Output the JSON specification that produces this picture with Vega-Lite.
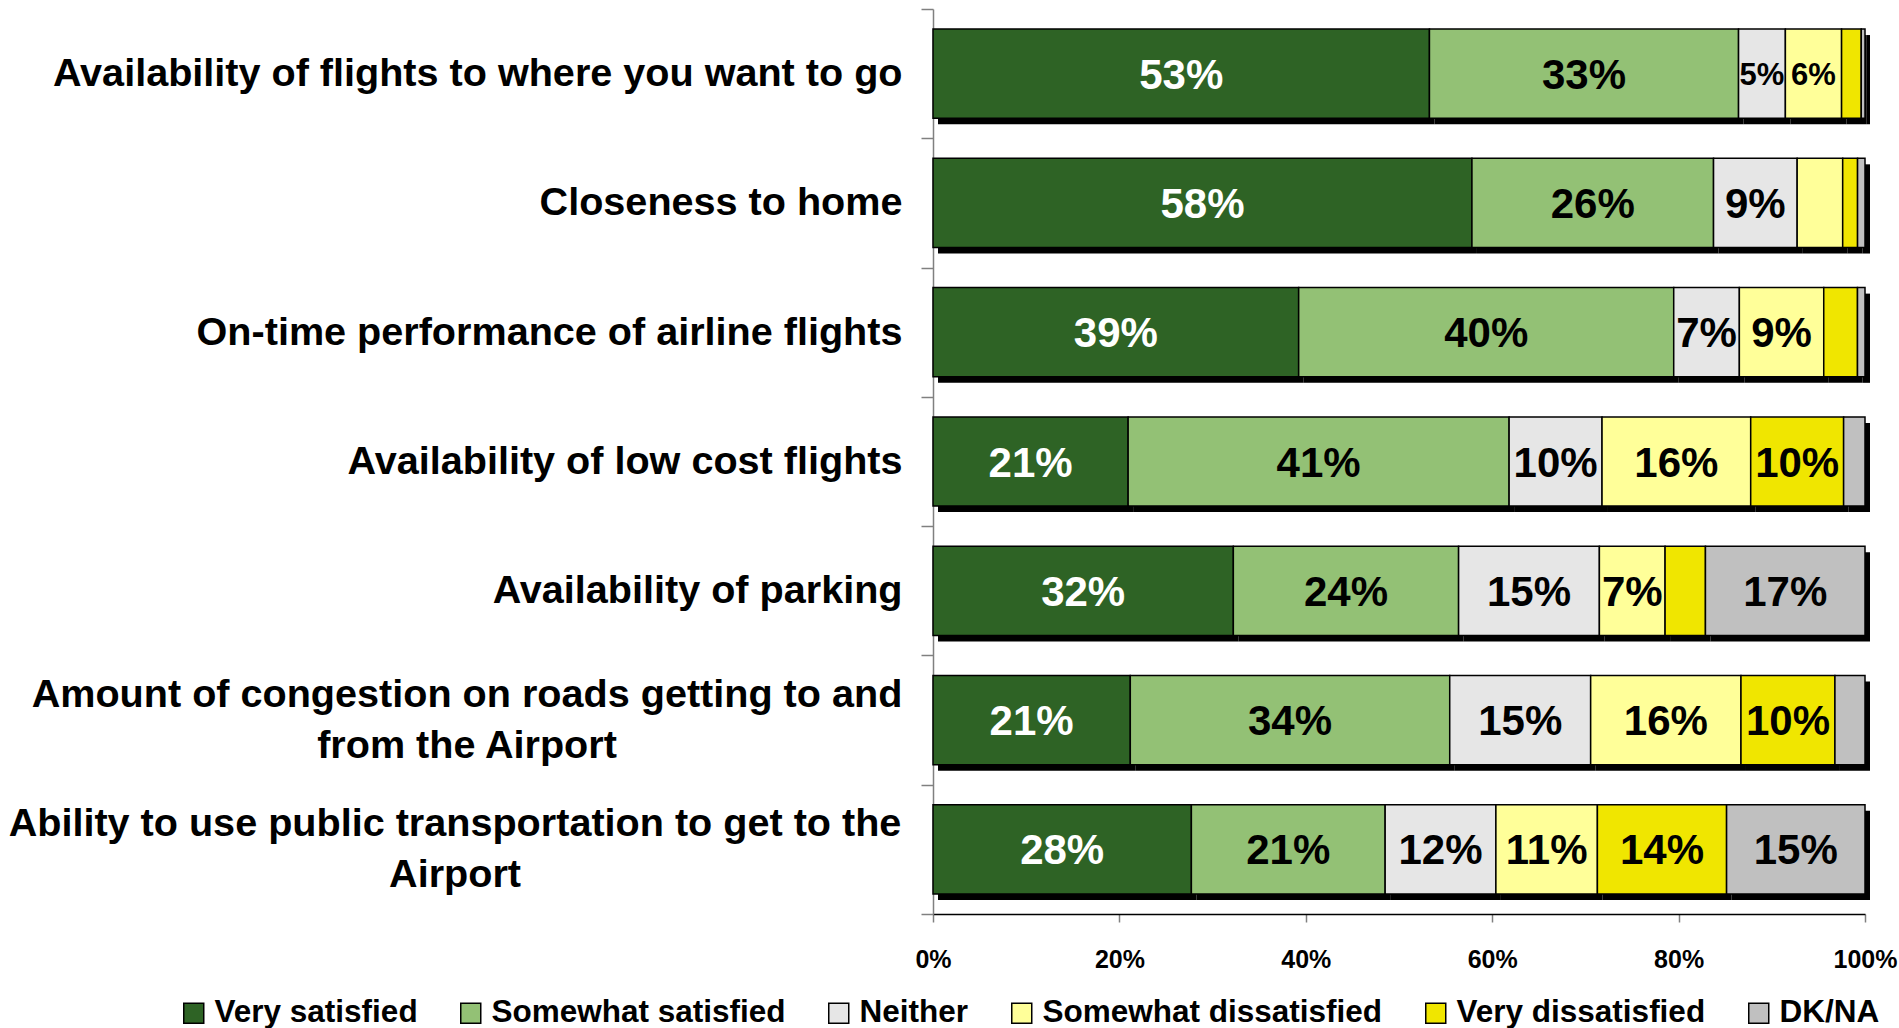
{
  "$schema": "https://vega.github.io/schema/vega-lite/v6.json",
  "width": 932,
  "height": 905,
  "autosize": {"type": "none"},
  "padding": {"left": 933, "top": 9, "right": 34, "bottom": 114},
  "background": "white",
  "config": {"view": {"stroke": null}, "font": "Liberation Sans"},
  "data": {"values": [
    {"item": "Availability of flights to where you want to go", "resp": "Very satisfied", "k": 1, "value": 0.53},
    {"item": "Availability of flights to where you want to go", "resp": "Somewhat satisfied", "k": 2, "value": 0.33},
    {"item": "Availability of flights to where you want to go", "resp": "Neither", "k": 3, "value": 0.05},
    {"item": "Availability of flights to where you want to go", "resp": "Somewhat dissatisfied", "k": 4, "value": 0.06},
    {"item": "Availability of flights to where you want to go", "resp": "Very dissatisfied", "k": 5, "value": 0.021},
    {"item": "Availability of flights to where you want to go", "resp": "DK/NA", "k": 6, "value": 0.004},
    {"item": "Closeness to home", "resp": "Very satisfied", "k": 1, "value": 0.58},
    {"item": "Closeness to home", "resp": "Somewhat satisfied", "k": 2, "value": 0.26},
    {"item": "Closeness to home", "resp": "Neither", "k": 3, "value": 0.09},
    {"item": "Closeness to home", "resp": "Somewhat dissatisfied", "k": 4, "value": 0.049},
    {"item": "Closeness to home", "resp": "Very dissatisfied", "k": 5, "value": 0.016},
    {"item": "Closeness to home", "resp": "DK/NA", "k": 6, "value": 0.008},
    {"item": "On-time performance of airline flights", "resp": "Very satisfied", "k": 1, "value": 0.39},
    {"item": "On-time performance of airline flights", "resp": "Somewhat satisfied", "k": 2, "value": 0.40},
    {"item": "On-time performance of airline flights", "resp": "Neither", "k": 3, "value": 0.07},
    {"item": "On-time performance of airline flights", "resp": "Somewhat dissatisfied", "k": 4, "value": 0.09},
    {"item": "On-time performance of airline flights", "resp": "Very dissatisfied", "k": 5, "value": 0.036},
    {"item": "On-time performance of airline flights", "resp": "DK/NA", "k": 6, "value": 0.008},
    {"item": "Availability of low cost flights", "resp": "Very satisfied", "k": 1, "value": 0.21},
    {"item": "Availability of low cost flights", "resp": "Somewhat satisfied", "k": 2, "value": 0.41},
    {"item": "Availability of low cost flights", "resp": "Neither", "k": 3, "value": 0.10},
    {"item": "Availability of low cost flights", "resp": "Somewhat dissatisfied", "k": 4, "value": 0.16},
    {"item": "Availability of low cost flights", "resp": "Very dissatisfied", "k": 5, "value": 0.10},
    {"item": "Availability of low cost flights", "resp": "DK/NA", "k": 6, "value": 0.023},
    {"item": "Availability of parking", "resp": "Very satisfied", "k": 1, "value": 0.32},
    {"item": "Availability of parking", "resp": "Somewhat satisfied", "k": 2, "value": 0.24},
    {"item": "Availability of parking", "resp": "Neither", "k": 3, "value": 0.15},
    {"item": "Availability of parking", "resp": "Somewhat dissatisfied", "k": 4, "value": 0.07},
    {"item": "Availability of parking", "resp": "Very dissatisfied", "k": 5, "value": 0.043},
    {"item": "Availability of parking", "resp": "DK/NA", "k": 6, "value": 0.17},
    {"item": "Amount of congestion on roads getting to and|from the Airport", "resp": "Very satisfied", "k": 1, "value": 0.21},
    {"item": "Amount of congestion on roads getting to and|from the Airport", "resp": "Somewhat satisfied", "k": 2, "value": 0.34},
    {"item": "Amount of congestion on roads getting to and|from the Airport", "resp": "Neither", "k": 3, "value": 0.15},
    {"item": "Amount of congestion on roads getting to and|from the Airport", "resp": "Somewhat dissatisfied", "k": 4, "value": 0.16},
    {"item": "Amount of congestion on roads getting to and|from the Airport", "resp": "Very dissatisfied", "k": 5, "value": 0.10},
    {"item": "Amount of congestion on roads getting to and|from the Airport", "resp": "DK/NA", "k": 6, "value": 0.032},
    {"item": "Ability to use public transportation to get to the|Airport", "resp": "Very satisfied", "k": 1, "value": 0.28},
    {"item": "Ability to use public transportation to get to the|Airport", "resp": "Somewhat satisfied", "k": 2, "value": 0.21},
    {"item": "Ability to use public transportation to get to the|Airport", "resp": "Neither", "k": 3, "value": 0.12},
    {"item": "Ability to use public transportation to get to the|Airport", "resp": "Somewhat dissatisfied", "k": 4, "value": 0.11},
    {"item": "Ability to use public transportation to get to the|Airport", "resp": "Very dissatisfied", "k": 5, "value": 0.14},
    {"item": "Ability to use public transportation to get to the|Airport", "resp": "DK/NA", "k": 6, "value": 0.15}
  ]},
  "transform": [
    {"stack": "value", "groupby": ["item"], "sort": [{"field": "k", "order": "ascending"}], "as": ["x0", "x1"], "offset": "normalize"},
    {"calculate": "(datum.x0 + datum.x1) / 2", "as": "xm"}
  ],
  "encoding": {
    "y": {
      "field": "item", "type": "nominal", "sort": null,
      "scale": {"paddingInner": 0, "paddingOuter": 0},
      "axis": {
        "title": null,
        "domainColor": "#808080", "domainWidth": 1.5,
        "tickColor": "#808080", "tickSize": 12, "tickWidth": 1.5, "tickBand": "extent",
        "labelFont": "Liberation Sans", "labelFontWeight": "bold", "labelFontSize": 39.6, "labelColor": "black",
        "labelPadding": 19, "labelLimit": 1200, "labelAlign": "right",
        "labelExpr": "indexof(datum.label, '|') >= 0 ? '' : datum.label"
      }
    }
  },
  "layer": [
    {
      "mark": {"type": "bar", "color": "black", "height": {"band": 0.69}, "xOffset": 5, "x2Offset": 5, "yOffset": 6},
      "encoding": {
        "x": {"field": "x0", "type": "quantitative", "scale": {"domain": [0, 1]},
          "axis": {"title": null, "values": [0, 0.2, 0.4, 0.6, 0.8, 1], "format": ".0%", "grid": false,
            "domainColor": "black", "domainWidth": 1.5, "tickColor": "#808080", "tickSize": 8, "tickWidth": 1.5,
            "labelFont": "Liberation Sans", "labelFontWeight": "bold", "labelFontSize": 25, "labelColor": "black",
            "labelPadding": 25, "labelFlush": false}},
        "x2": {"field": "x1"}
      }
    },
    {
      "mark": {"type": "bar", "stroke": "black", "strokeWidth": 1.5, "opacity": 1, "height": {"band": 0.69}},
      "encoding": {
        "x": {"field": "x0", "type": "quantitative",
          "axis": {"title": null, "values": [0, 0.2, 0.4, 0.6, 0.8, 1], "format": ".0%", "grid": false,
            "domainColor": "black", "domainWidth": 1.5, "tickColor": "#808080", "tickSize": 8, "tickWidth": 1.5,
            "labelFont": "Liberation Sans", "labelFontWeight": "bold", "labelFontSize": 25, "labelColor": "black",
            "labelPadding": 25, "labelFlush": false}},
        "x2": {"field": "x1"},
        "color": {
          "field": "resp", "type": "nominal",
          "scale": {
            "domain": ["Very satisfied", "Somewhat satisfied", "Neither", "Somewhat dissatisfied", "Very dissatisfied", "DK/NA"],
            "range": ["#2E6325", "#93C175", "#E6E6E6", "#FFFF99", "#F0E600", "#C0C0C0"]
          },
          "legend": {
            "orient": "none", "legendX": -755, "legendY": 988, "direction": "horizontal", "title": null,
            "symbolType": "square", "symbolSize": 400, "symbolStrokeColor": "black", "symbolStrokeWidth": 1.5,
            "labelFont": "Liberation Sans", "labelFontWeight": "bold", "labelFontSize": 31.5, "labelColor": "black",
            "labelOffset": 5, "columnPadding": 37, "labelLimit": 1000
          }
        }
      }
    },
    {
      "transform": [{"filter": "datum.value >= 0.05"}],
      "mark": {"type": "text", "font": "Liberation Sans", "fontWeight": "bold", "baseline": "middle", "align": "center", "dy": 2},
      "encoding": {
        "x": {"field": "xm", "type": "quantitative"},
        "text": {"field": "value", "type": "quantitative", "format": ".0%"},
        "color": {"condition": {"test": "datum.k == 1", "value": "white"}, "value": "black"},
        "size": {"condition": {"test": "datum.value <= 0.06", "value": 31}, "value": 42}
      }
    },
    {
      "transform": [{"filter": "datum.k == 1 && indexof(datum.item, 'Amount') == 0"}],
      "mark": {"type": "text", "font": "Liberation Sans", "fontWeight": "bold", "fontSize": 39.6, "color": "black",
        "baseline": "middle", "align": "center", "lineBreak": "|", "lineHeight": 51, "dx": -466, "dy": -25},
      "encoding": {
        "x": {"datum": 0, "type": "quantitative"},
        "text": {"field": "item", "type": "nominal"}
      }
    },
    {
      "transform": [{"filter": "datum.k == 1 && indexof(datum.item, 'Ability') == 0"}],
      "mark": {"type": "text", "font": "Liberation Sans", "fontWeight": "bold", "fontSize": 39.6, "color": "black",
        "baseline": "middle", "align": "center", "lineBreak": "|", "lineHeight": 51, "dx": -478, "dy": -25},
      "encoding": {
        "x": {"datum": 0, "type": "quantitative"},
        "text": {"field": "item", "type": "nominal"}
      }
    }
  ]
}
